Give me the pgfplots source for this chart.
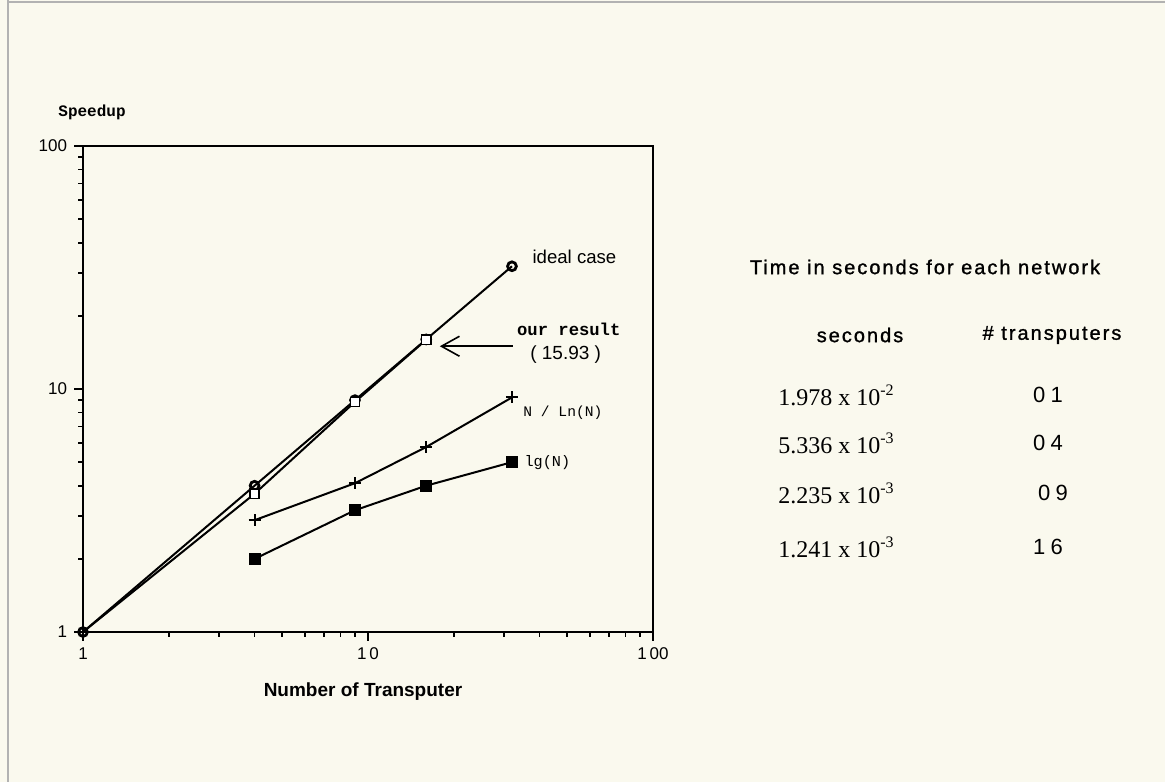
\documentclass[border=0pt]{standalone}
\usepackage{fontspec}
\setmainfont{Liberation Sans}
\newfontfamily\serif{Liberation Serif}
\newfontfamily\mono{Liberation Mono}
\newfontfamily\spaced[LetterSpace=10,FakeBold=1.2]{Liberation Sans}
\newfontfamily\spacedd[LetterSpace=25]{Liberation Sans}
\usepackage{pgfplots}
\pgfplotsset{compat=1.18}
\usetikzlibrary{arrows.meta}
\definecolor{paper}{RGB}{250,249,238}

\begin{document}
\begin{tikzpicture}[x=1pt,y=1pt]
\fill[paper] (-41.5,-75) rectangle (541,316);
\draw[gray!60, line width=0.6pt] (-37.5,315) -- (541,315);
\draw[gray!60, line width=0.6pt] (-37.5,316) -- (-37.5,-75);
\begin{axis}[at={(0,0)}, anchor=south west, scale only axis,
  width=285pt, height=243pt,
  xmode=log, ymode=log, xmin=1, xmax=100, ymin=1, ymax=100,
  xtick={1,10,100}, ytick={1,10,100},
  xticklabels={1,{1\,0},{1\,00}}, yticklabels={1,10,100},
  minor xtick={2,3,4,5,6,7,8,9,20,30,40,50,60,70,80,90},
  minor ytick={2,3,4,5,6,7,8,9,20,30,40,50,60,70,80,90},
  xtick pos=bottom, ytick pos=left,
  tick label style={font=\fontsize{8.5}{10}\selectfont},
  tick align=outside, major tick length=4.5pt, minor tick length=2.5pt,
  every tick/.append style={black, line width=0.8pt},
  axis line style={line width=1pt},
  axis background/.style={fill=paper},
  clip=false,
]
\addplot[line width=1pt, mark=o, mark size=2.2pt, mark options={line width=1.4pt, fill=paper}]
  coordinates {(1,1)(4,4)(9,9)(16,16)(32,32)};
\addplot[line width=1pt, mark=square*, mark size=2.3pt, mark indices={2,3,4}, mark options={line width=0.8pt, fill=white}]
  coordinates {(1,1)(4,3.707)(9,8.850)(16,15.939)};
\addplot[line width=1pt, mark=+, mark size=3pt, mark options={line width=1pt}]
  coordinates {(4,2.885)(9,4.096)(16,5.771)(32,9.233)};
\addplot[line width=1pt, mark=square*, mark size=2.5pt, mark options={fill=black}]
  coordinates {(4,2)(9,3.170)(16,4)(32,5)};
\node[anchor=west, inner sep=0pt, font=\fontsize{9.3}{11}\selectfont] at (rel axis cs:0.788,0.772) {ideal case};
\node[anchor=west, inner sep=0pt, font=\fontsize{8.6}{10}\mono\bfseries] at (rel axis cs:0.761,0.623) {our result};
\node[anchor=west, inner sep=0pt, font=\fontsize{9.5}{11}\selectfont] at (rel axis cs:0.784,0.570) {( 15.93 )};
\draw[line width=0.8pt, -{Straight Barb[length=9pt,width=10pt,line width=0.8pt]}] (rel axis cs:0.754,0.588) -- (rel axis cs:0.626,0.588);
\node[anchor=west, inner sep=0pt, font=\fontsize{7.3}{9}\mono] at (rel axis cs:0.772,0.451) {N / Ln(N)};
\node[anchor=west, inner sep=0pt, font=\fontsize{7.6}{9}\mono] at (rel axis cs:0.774,0.348) {lg(N)};
\end{axis}
\node[anchor=west, inner sep=0pt, font=\fontsize{8}{9}\mono\bfseries] at (-12.5,260) {Speedup};
\node[inner sep=0pt, font=\fontsize{9.5}{11}\selectfont\bfseries] at (140,-30) {Number of Transputer};
\node[inner sep=0pt, font=\fontsize{10}{12}\spaced] at (421,182.5) {Time in seconds for each network};
\node[inner sep=0pt, font=\fontsize{10}{12}\spaced] at (388.5,148.5) {seconds};
\node[inner sep=0pt, font=\fontsize{10}{12}\spaced] at (484.5,148.5) {\# transputers};
\node[inner sep=0pt, font=\fontsize{12}{14}\serif] at (376.5,118.5) {1.978 x 10\raisebox{5pt}{\fontsize{8}{9}\serif -2}};
\node[inner sep=0pt, font=\fontsize{12}{14}\serif] at (376.5,94.5) {5.336 x 10\raisebox{5pt}{\fontsize{8}{9}\serif -3}};
\node[inner sep=0pt, font=\fontsize{12}{14}\serif] at (376.5,69.5) {2.235 x 10\raisebox{5pt}{\fontsize{8}{9}\serif -3}};
\node[inner sep=0pt, font=\fontsize{12}{14}\serif] at (376.5,42.5) {1.241 x 10\raisebox{5pt}{\fontsize{8}{9}\serif -3}};
\node[inner sep=0pt, font=\fontsize{11}{13}\spacedd] at (482.5,118.5) {01};
\node[inner sep=0pt, font=\fontsize{11}{13}\spacedd] at (482.5,94.5) {04};
\node[inner sep=0pt, font=\fontsize{11}{13}\spacedd] at (485,69.5) {09};
\node[inner sep=0pt, font=\fontsize{11}{13}\spacedd] at (482.5,42.5) {16};
\pgfresetboundingbox
\path (-41.5,-75) rectangle (541,316);
\end{tikzpicture}
\end{document}
